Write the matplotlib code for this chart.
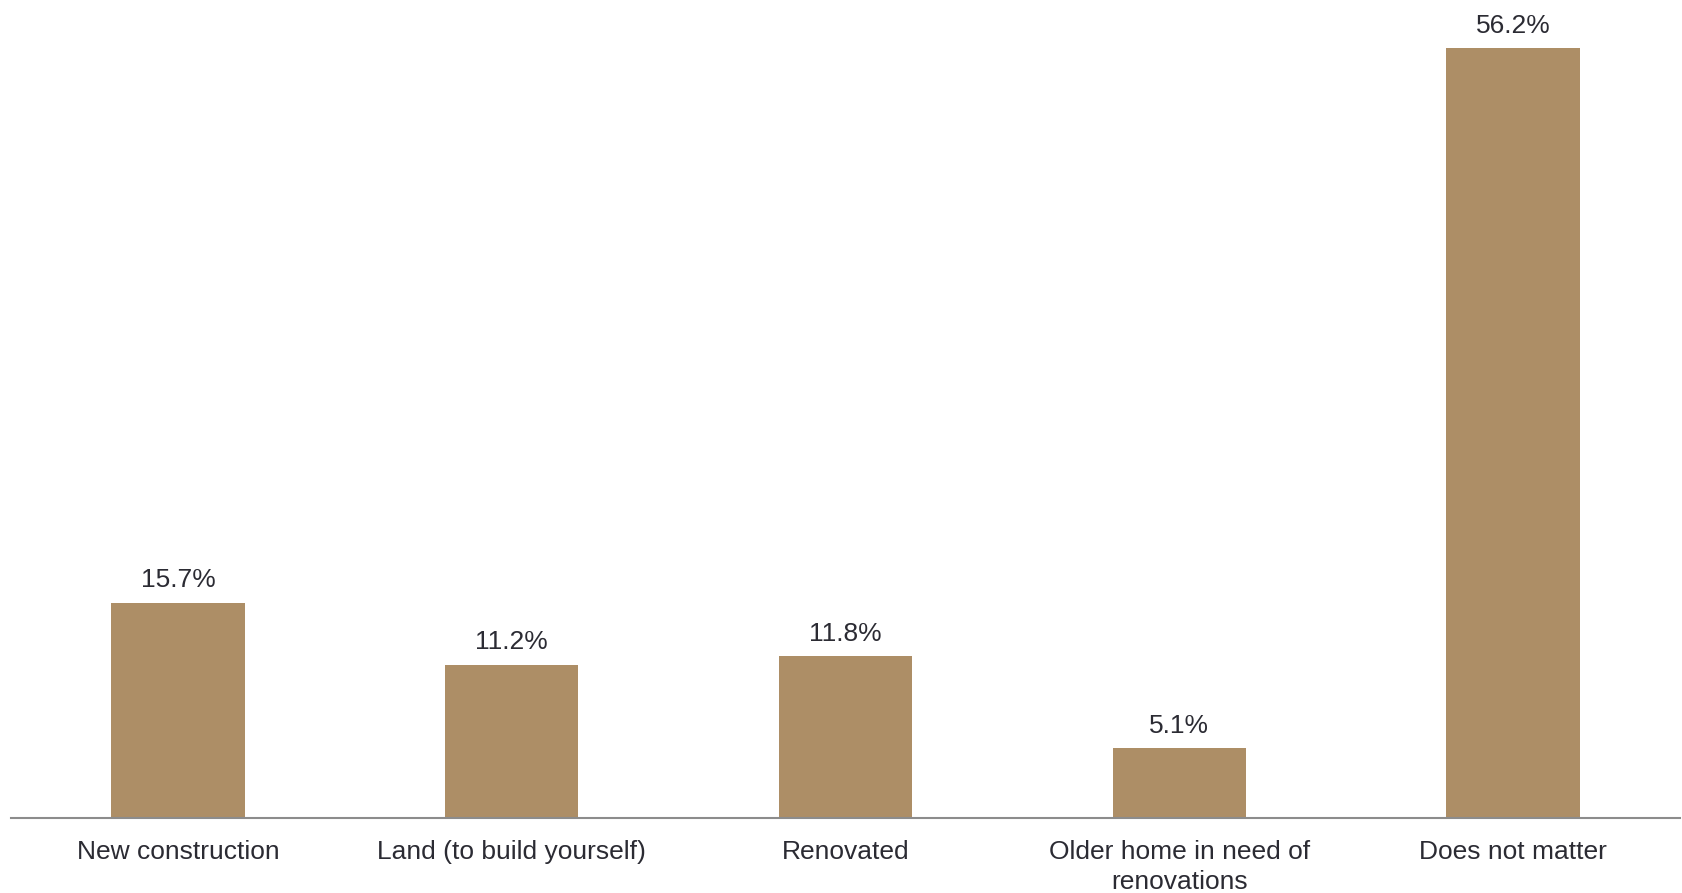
"""bar chart of preferred home type"""

import matplotlib
matplotlib.use("Agg")
import matplotlib.pyplot as plt

categories = [
    "New construction",
    "Land (to build yourself)",
    "Renovated",
    "Older home in need of\nrenovations",
    "Does not matter",
]
shares = [15.7, 11.2, 11.8, 5.1, 56.2]

BAR_COLOR = "#AD8E66"
TEXT_COLOR = "#2B2B33"

plt.rcParams["font.family"] = ["Liberation Sans", "DejaVu Sans"]

fig = plt.figure(figsize=(16.83, 8.93), dpi=100)
ax = fig.add_axes([11 / 1683, 75 / 893, 1669 / 1683, 818 / 893])

x = range(len(categories))
bars = ax.bar(x, shares, width=0.4, color=BAR_COLOR)

for rect, val in zip(bars, shares):
    ax.annotate(f"{val:.1f}%", (rect.get_x() + rect.get_width() / 2, val),
                xytext=(0, 7.5), textcoords="offset points",
                ha="center", va="bottom", fontsize=19, color=TEXT_COLOR)

ax.set_xlim(-0.5, 4.5)
ax.set_ylim(0, 59.7)
ax.set_xticks(list(x))
ax.set_xticklabels(categories, fontsize=19, color=TEXT_COLOR, linespacing=1.35)
ax.tick_params(axis="x", length=0, pad=15.5)
ax.set_yticks([])
for side in ["top", "right", "left"]:
    ax.spines[side].set_visible(False)
ax.spines["bottom"].set_color("#8C8C8C")
ax.spines["bottom"].set_linewidth(1.5)

fig.savefig("out.png", dpi=100)
